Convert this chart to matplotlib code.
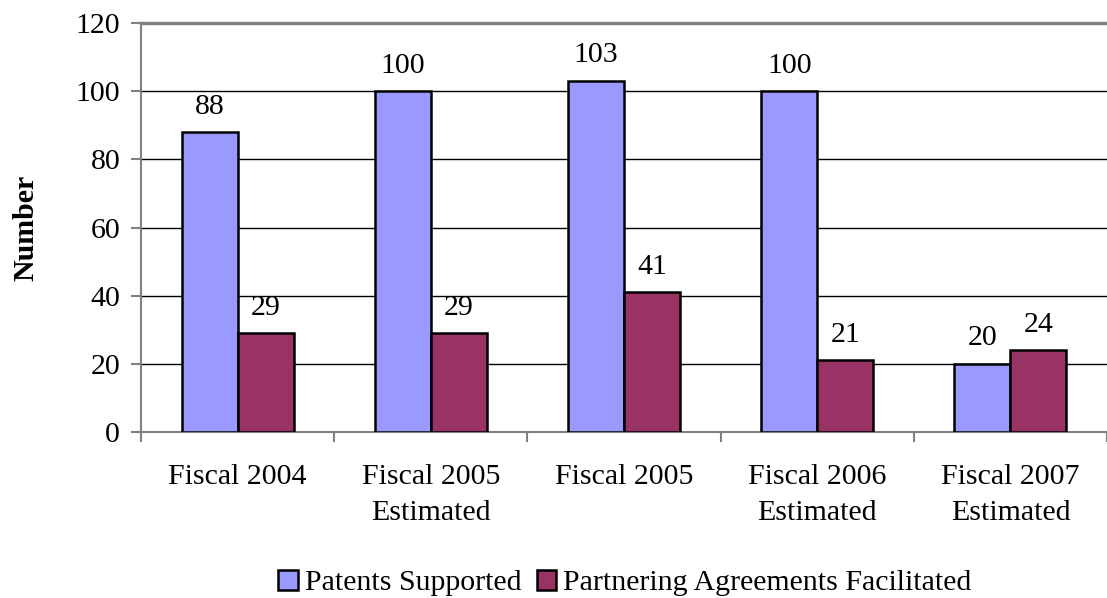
import matplotlib.pyplot as plt
import numpy as np

categories = ["Fiscal 2004", "Fiscal 2005\nEstimated", "Fiscal 2005",
              "Fiscal 2006\nEstimated", "Fiscal 2007\nEstimated"]
patents = [88, 100, 103, 100, 20]
partnering = [29, 29, 41, 21, 24]
series_names = ["Patents Supported", "Partnering Agreements Facilitated"]
y_ticks = [0, 20, 40, 60, 80, 100, 120]

plt.rcParams['font.family'] = ['Liberation Serif', 'DejaVu Serif']
plt.rcParams['font.size'] = 21.5

fig = plt.figure(figsize=(11.07, 5.98), dpi=100)
ax = fig.add_axes([0.1274, 0.2776, 0.8726, 0.6839])

x = np.arange(len(categories))
w = 0.29
b1 = ax.bar(x - w / 2, patents, w, color='#9999FF', edgecolor='black',
            linewidth=1.8, label=series_names[0], zorder=3)
b2 = ax.bar(x + w / 2, partnering, w, color='#993366', edgecolor='black',
            linewidth=1.8, label=series_names[1], zorder=3)

for bars, vals in ((b1, patents), (b2, partnering)):
    for r, v in zip(bars, vals):
        ax.annotate(str(v), (r.get_x() + r.get_width() / 2, v),
                    xytext=(0, 9), textcoords='offset points',
                    ha='center', va='bottom')

ax.set_xlim(-0.5, len(categories) - 0.5)
ax.set_ylim(0, 120)
ax.set_yticks(y_ticks)
ax.yaxis.grid(True, color='black', linewidth=1)
ax.set_axisbelow(True)

ax.set_xticks(np.arange(-0.5, len(categories)), minor=False)
ax.set_xticklabels([])
ax.set_xticks(x, minor=True)
ax.set_xticklabels(categories, minor=True, linespacing=1.5)
ax.tick_params(axis='x', which='minor', length=0, pad=23)
ax.tick_params(axis='x', which='major', length=7, color='#808080', width=1.5)
ax.tick_params(axis='y', length=7, color='#808080', width=1.5, pad=8)

ax.spines['right'].set_visible(False)
ax.spines['top'].set_color('#808080')
ax.spines['top'].set_linewidth(2.5)
ax.spines['left'].set_color('#808080')
ax.spines['left'].set_linewidth(1.5)
ax.spines['bottom'].set_color('#808080')
ax.spines['bottom'].set_linewidth(1.5)

ax.set_ylabel("Number", fontweight='bold', labelpad=26)

fig.legend(loc='center', bbox_to_anchor=(0.5646, 0.025), ncol=2, frameon=False,
           handlelength=0.65, handleheight=0.65, handletextpad=0.25,
           columnspacing=0.5, borderpad=0)

fig.savefig("out.png", dpi=100)
